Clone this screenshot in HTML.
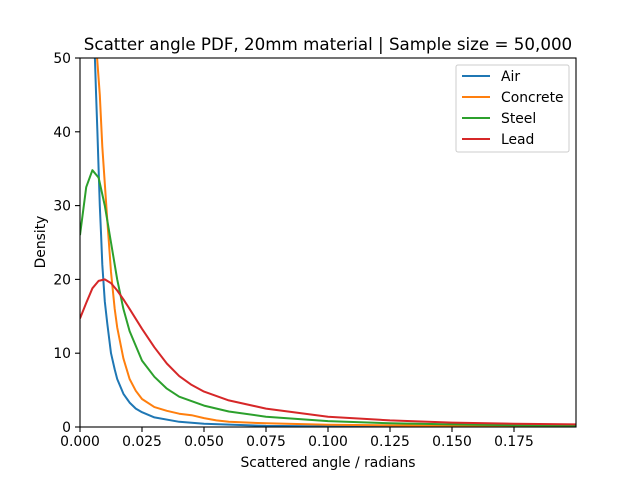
<!DOCTYPE html>
<html><head><meta charset="utf-8"><style>body{margin:0;background:#fff}svg{display:block;font-family:"DejaVu Sans","Liberation Sans",sans-serif}</style></head>
<body>
<svg id="chart" width="640" height="480" viewBox="0 0 640 480">
<defs><clipPath id="clip"><rect x="80" y="58" width="496" height="369"/></clipPath></defs>
<rect width="640" height="480" fill="#fff"/>
<text x="328" y="50" text-anchor="middle" font-size="16.7">Scatter angle PDF, 20mm material | Sample size = 50,000</text>
<g id="plot" clip-path="url(#clip)"></g>
<g id="axes"></g>
<rect x="80" y="58" width="496" height="369" fill="none" stroke="#000" stroke-width="1.1"/>
<text x="328" y="467" text-anchor="middle" font-size="13.9">Scattered angle / radians</text>
<text transform="translate(45,242) rotate(-90)" text-anchor="middle" font-size="13.9">Density</text>
<g id="legend">
<rect x="456" y="65" width="113" height="87" rx="2" fill="#fff" fill-opacity="0.8" stroke="#ccc" stroke-width="1"/>
</g>
</svg>
<script>
const seriesNames=["Air","Concrete","Steel","Lead"];
const colors=["#1f77b4","#ff7f0e","#2ca02c","#d62728"];
const airX=[0.005,0.0055,0.006,0.0065,0.007,0.0075,0.008,0.0085,0.009,0.010,0.011,0.0125,0.014,0.015,0.0175,0.02,0.0225,0.025,0.03,0.04,0.05,0.075,0.1,0.2];
const airY=[70,58,50,45,40,35,30,26,22,17,14,10,7.8,6.5,4.5,3.3,2.5,2.0,1.3,0.7,0.45,0.15,0.08,0.02];
const concreteX=[0.005,0.0069,0.008,0.009,0.01,0.011,0.0125,0.014,0.015,0.0175,0.02,0.0225,0.025,0.03,0.035,0.04,0.045,0.05,0.055,0.06,0.075,0.1,0.15,0.2];
const concreteY=[70,50,45,38,33,28,21,16,13.5,9.3,6.5,4.9,3.8,2.7,2.2,1.8,1.6,1.2,0.9,0.7,0.5,0.3,0.15,0.1];
const steelX=[0,0.0025,0.005,0.0075,0.01,0.0125,0.015,0.0175,0.02,0.025,0.03,0.035,0.04,0.05,0.06,0.075,0.1,0.125,0.15,0.175,0.2];
const steelY=[26,32.5,34.8,33.8,30,25,20,16,13,9,6.8,5.2,4.1,2.9,2.1,1.4,0.8,0.5,0.35,0.25,0.2];
const leadX=[0,0.0025,0.005,0.0075,0.01,0.0125,0.015,0.0175,0.02,0.025,0.03,0.035,0.04,0.045,0.05,0.06,0.075,0.1,0.125,0.15,0.175,0.2];
const leadY=[14.7,16.8,18.8,19.8,20,19.5,18.5,17.3,16,13.3,10.8,8.6,6.9,5.7,4.8,3.6,2.5,1.4,0.9,0.6,0.45,0.35];
const xTicks=[0,0.025,0.05,0.075,0.1,0.125,0.15,0.175];
const xTickLabels=["0.000","0.025","0.050","0.075","0.100","0.125","0.150","0.175"];
const yTicks=[0,10,20,30,40,50];
const NS="http://www.w3.org/2000/svg";
const X=v=>80+v/0.2*496, Y=v=>427-v/50*369;
const xs=[airX,concreteX,steelX,leadX], ys=[airY,concreteY,steelY,leadY];
const plot=document.getElementById('plot'), axes=document.getElementById('axes'), legend=document.getElementById('legend');
function mk(tag,attrs,parent){const e=document.createElementNS(NS,tag);for(const k in attrs)e.setAttribute(k,attrs[k]);parent.appendChild(e);return e;}
xs.forEach((xa,i)=>{
 const p=mk('path',{d:xa.map((x,j)=>(j?'L':'M')+X(x).toFixed(1)+','+Y(ys[i][j]).toFixed(1)).join(''),fill:'none',stroke:colors[i],'stroke-width':2,'stroke-linejoin':'round'},plot);
 
 
 const ly=76+i*21;
 const l=mk('line',{x1:462,x2:490,y1:ly,y2:ly,stroke:colors[i],'stroke-width':2},legend);
 
 
 const t=mk('text',{x:501,y:ly+5,'font-size':13.9},legend);t.textContent=seriesNames[i];
 
 
});
xTicks.forEach((v,i)=>{
 const tk=mk('line',{x1:X(v),x2:X(v),y1:427,y2:432,stroke:'#000','stroke-width':1.1},axes);
 
 
 const t=mk('text',{x:X(v),y:446,'text-anchor':'middle','font-size':13.9},axes);t.textContent=xTickLabels[i];
 
 
});
yTicks.forEach(v=>{
 const tk=mk('line',{x1:75,x2:80,y1:Y(v),y2:Y(v),stroke:'#000','stroke-width':1.1},axes);
 
 
 const t=mk('text',{x:71,y:Y(v)+5,'text-anchor':'end','font-size':13.9},axes);t.textContent=v;
 
 
});
</script>
</body></html>
